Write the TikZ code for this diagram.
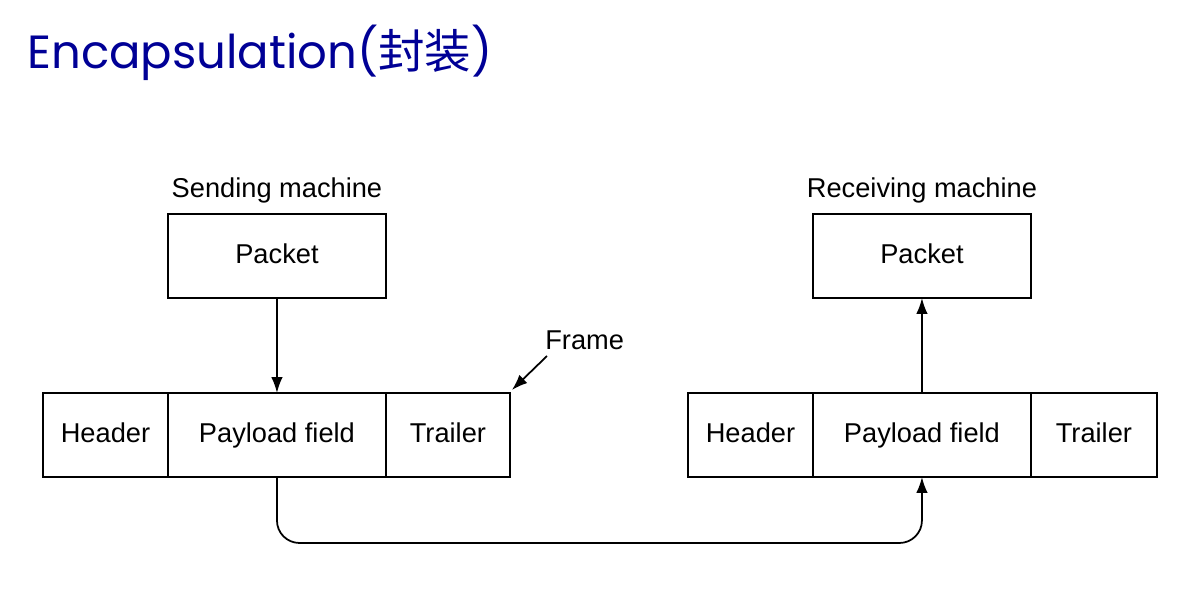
\documentclass[tikz,border=0pt]{standalone}
\usepackage{fontspec}
\setmainfont{Liberation Sans}
\newfontfamily\titlefont{Poppins}
\newfontfamily\cjk{Noto Sans CJK SC}
\usetikzlibrary{arrows.meta,positioning,calc}
\definecolor{titleblue}{RGB}{0,0,150}

\begin{document}
\begin{tikzpicture}[x=0.02cm,y=-0.02cm,node distance=0pt,
    cell/.style={draw,line width=0.9pt,outer sep=0pt,inner sep=0pt,minimum height=1.68cm,
      text height=11pt,text depth=3pt,font=\fontsize{15.5}{18}\selectfont},
    caption/.style={font=\fontsize{15.5}{18}\selectfont},
    >={Latex[length=9pt,width=6.5pt]}]
  \useasboundingbox (0,0) rectangle (1177,592);
  \node[anchor=base west,text=titleblue,font=\titlefont\fontsize{26.5}{30}\selectfont,inner sep=0pt]
    (title) at (27,68) {Encapsulation({\cjk 封装})};
  % sending side
  \node[cell,minimum width=2.5cm,anchor=north west] (sh) at (43,393) {Header};
  \node[cell,minimum width=4.36cm,right=of sh] (sp) {Payload field};
  \node[cell,minimum width=2.48cm,right=of sp] (st) {Trailer};
  \node[cell,minimum width=4.36cm,above=1.9cm of sp] (sk) {Packet};
  \node[caption,above=0.1cm of sk] (sm) {Sending machine};
  % receiving side
  \node[cell,minimum width=2.5cm,anchor=north west] (rh) at (688,393) {Header};
  \node[cell,minimum width=4.36cm,right=of rh] (rp) {Payload field};
  \node[cell,minimum width=2.52cm,right=of rp] (rt) {Trailer};
  \node[cell,minimum width=4.36cm,above=1.9cm of rp] (rk) {Packet};
  \node[caption,above=0.1cm of rk] (rm) {Receiving machine};
  % frame label
  \node[caption,anchor=west,inner sep=0pt] (fr) at (545,340) {Frame};
  \coordinate (fa) at (547,356);
  \draw[->,line width=1pt] (fa) -- ($(st.north east)+(2,-3)$);
  % connectors
  \draw[->,line width=1pt] (sk) -- (sp);
  \draw[->,line width=1pt] (rp) -- (rk);
  \draw[->,line width=1pt,rounded corners=0.45cm] (sp.south) -- ++(0,66) -| (rp.south);
\end{tikzpicture}
\end{document}
